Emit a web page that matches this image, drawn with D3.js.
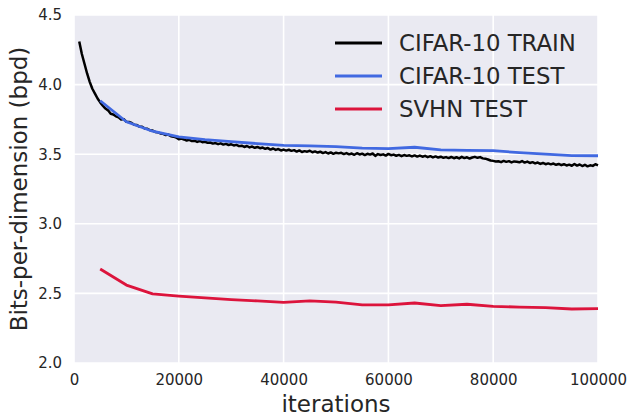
<!DOCTYPE html>
<html>
<head>
<meta charset="utf-8">
<script src="https://cdn.jsdelivr.net/npm/d3@7"></script>
<style>
  body { margin: 0; background: #fff; }
  text { font-family: "DejaVu Sans", sans-serif; fill: #262626; }
</style>
</head>
<body>
<div id="chart"></div>
<script>
// iterations of the two test curves
var testIters = [5000, 10000, 15000, 20000, 25000, 30000, 35000, 40000, 45000, 50000,
                 55000, 60000, 65000, 70000, 75000, 80000, 85000, 90000, 95000, 100000];
var cifarTest = [3.884, 3.733, 3.665, 3.625, 3.605, 3.590, 3.576, 3.564, 3.560, 3.554,
                 3.543, 3.540, 3.550, 3.531, 3.528, 3.525, 3.511, 3.500, 3.490, 3.489];
var svhnTest  = [2.675, 2.560, 2.497, 2.481, 2.468, 2.455, 2.446, 2.435, 2.447, 2.437,
                 2.418, 2.417, 2.431, 2.412, 2.422, 2.407, 2.402, 2.398, 2.388, 2.390];

// train curve, read every 500 iterations starting at 1000
var trainStart = 1000, trainStep = 500;
var cifarTrain = [
  4.310, 4.220, 4.150, 4.080, 4.020, 3.970, 3.935, 3.900, 3.872, 3.848,
  3.828, 3.815, 3.790, 3.785, 3.772, 3.765, 3.749, 3.752, 3.733, 3.731,
  3.724, 3.712, 3.709, 3.698, 3.697, 3.685, 3.683, 3.672, 3.670, 3.660,
  3.657, 3.649, 3.646, 3.638, 3.641, 3.629, 3.626, 3.620, 3.607, 3.612,
  3.606, 3.598, 3.603, 3.594, 3.597, 3.588, 3.595, 3.586, 3.589, 3.582,
  3.584, 3.576, 3.580, 3.572, 3.578, 3.569, 3.574, 3.566, 3.571, 3.563,
  3.567, 3.558, 3.561, 3.552, 3.559, 3.549, 3.555, 3.546, 3.552, 3.543,
  3.548, 3.539, 3.544, 3.533, 3.541, 3.531, 3.537, 3.527, 3.533, 3.526,
  3.532, 3.524, 3.529, 3.519, 3.527, 3.516, 3.522, 3.518, 3.525, 3.514,
  3.520, 3.512, 3.518, 3.508, 3.515, 3.505, 3.513, 3.503, 3.511, 3.506,
  3.510, 3.501, 3.508, 3.499, 3.505, 3.496, 3.507, 3.498, 3.504, 3.494,
  3.503, 3.497, 3.505, 3.488, 3.501, 3.494, 3.499, 3.490, 3.502, 3.493,
  3.497, 3.489, 3.495, 3.486, 3.494, 3.488, 3.492, 3.484, 3.491, 3.483,
  3.490, 3.482, 3.488, 3.479, 3.486, 3.477, 3.484, 3.476, 3.482, 3.474,
  3.479, 3.472, 3.480, 3.471, 3.478, 3.470, 3.481, 3.472, 3.478, 3.469,
  3.476, 3.481, 3.474, 3.479, 3.470, 3.468, 3.462, 3.455, 3.452, 3.447,
  3.449, 3.443, 3.452, 3.445, 3.450, 3.441, 3.448, 3.446, 3.442, 3.451,
  3.440, 3.447, 3.437, 3.443, 3.434, 3.440, 3.430, 3.437, 3.428, 3.434,
  3.427, 3.433, 3.424, 3.430, 3.421, 3.428, 3.419, 3.425, 3.417, 3.430,
  3.418, 3.426, 3.415, 3.424, 3.413, 3.420, 3.416, 3.428, 3.420
];

var xTicks = [0, 20000, 40000, 60000, 80000, 100000];
var yTicks = [2.0, 2.5, 3.0, 3.5, 4.0, 4.5];

var series = [
  { name: "CIFAR-10 TRAIN", color: "#000000", width: 2.5,
    points: cifarTrain.map(function(v, i) { return [trainStart + i * trainStep, v]; }) },
  { name: "CIFAR-10 TEST", color: "#4169e1", width: 2.8,
    points: cifarTest.map(function(v, i) { return [testIters[i], v]; }) },
  { name: "SVHN TEST", color: "#dc143c", width: 2.8,
    points: svhnTest.map(function(v, i) { return [testIters[i], v]; }) }
];

var width = 630, height = 417;
var margin = { left: 74, right: 32, top: 15, bottom: 54 };

var svg = d3.select("#chart").append("svg")
    .attr("width", width)
    .attr("height", height);

var x = d3.scaleLinear().domain([0, 100000]).range([margin.left, width - margin.right]);
var y = d3.scaleLinear().domain([2.0, 4.5]).range([height - margin.bottom, margin.top]);

// background
svg.append("rect")
    .attr("x", margin.left)
    .attr("y", margin.top)
    .attr("width", x(100000) - x(0))
    .attr("height", y(2.0) - y(4.5))
    .attr("fill", "#eaeaf2");

// grid
var grid = svg.append("g");
grid.selectAll(".vg").data(xTicks).enter().append("line")
    .attr("x1", function(d) { return x(d); })
    .attr("x2", function(d) { return x(d); })
    .attr("y1", y(2.0)).attr("y2", y(4.5))
    .style("stroke", "#fff").style("stroke-width", 1.6);
grid.selectAll(".hg").data(yTicks).enter().append("line")
    .attr("x1", x(0)).attr("x2", x(100000))
    .attr("y1", function(d) { return y(d); })
    .attr("y2", function(d) { return y(d); })
    .style("stroke", "#fff").style("stroke-width", 1.6);

// axes (no lines, just labels)
var xAxis = svg.append("g")
    .attr("transform", "translate(0," + y(2.0) + ")")
    .call(d3.axisBottom(x).tickValues(xTicks).tickSize(0).tickPadding(11).tickFormat(d3.format("d")));
var yAxis = svg.append("g")
    .attr("transform", "translate(" + x(0) + ",0)")
    .call(d3.axisLeft(y).tickValues(yTicks).tickSize(0).tickPadding(12).tickFormat(d3.format(".1f")));
[xAxis, yAxis].forEach(function(a) {
  a.select(".domain").remove();
  a.selectAll("text").attr("font-family", "DejaVu Sans").attr("font-size", 15).style("fill", "#262626");
});

// lines
var line = d3.line()
    .x(function(d) { return x(d[0]); })
    .y(function(d) { return y(d[1]); });

var lines = svg.append("g");
series.forEach(function(s) {
  lines.append("path")
      .datum(s.points)
      .attr("d", line)
      .style("fill", "none")
      .style("stroke", s.color)
      .style("stroke-width", s.width)
      .style("stroke-linejoin", "round");
});

// legend
var legend = svg.append("g").attr("transform", "translate(335,43)");
series.forEach(function(s, i) {
  var row = legend.append("g").attr("transform", "translate(0," + (i * 33) + ")");
  row.append("line")
      .attr("x1", 0).attr("x2", 47)
      .attr("y1", 0).attr("y2", 0)
      .style("stroke", s.color).style("stroke-width", 2.8);
  row.append("text")
      .attr("x", 64).attr("y", 8)
      .attr("font-size", 22.8)
      .text(s.name);
});

// axis titles
svg.append("text")
    .attr("x", (x(0) + x(100000)) / 2)
    .attr("y", 412)
    .attr("text-anchor", "middle")
    .attr("font-size", 23)
    .text("iterations");
svg.append("text")
    .attr("transform", "translate(27," + ((y(2.0) + y(4.5)) / 2) + ") rotate(-90)")
    .attr("text-anchor", "middle")
    .attr("font-size", 23)
    .text("Bits-per-dimension (bpd)");
</script>
</body>
</html>
